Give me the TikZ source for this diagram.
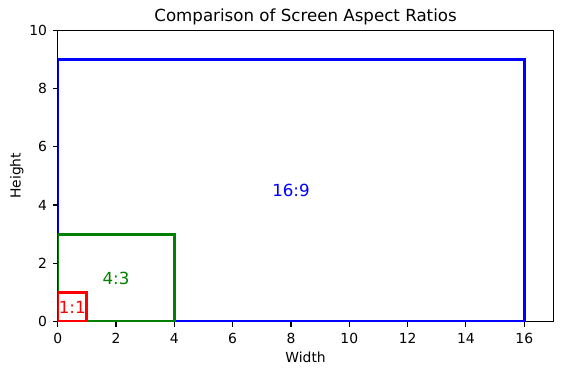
\documentclass[tikz,border=0pt]{standalone}
\usepackage{fontspec}
\setmainfont{DejaVu Sans}
\definecolor{mplgreen}{HTML}{008000}
\begin{document}
\begin{tikzpicture}[x=21pt,y=21pt]
\useasboundingbox (-1.979,-1.828) rectangle (17.329,11.032);
\fontsize{10}{12}\selectfont

% axes, ticks
\path[draw,line width=0.8pt] (0,0) rectangle (17,10);
\foreach \x in {0,2,...,16} {
  \path[draw,line width=0.8pt] (\x,0) -- ++(0,-3.5pt);
  \node[anchor=north,inner sep=0] (xt\x) at ([yshift=-8pt]\x,0) {\x};
}
\foreach \y in {0,2,...,10} {
  \path[draw,line width=0.8pt] (0,\y) -- ++(-3.5pt,0);
  \node[anchor=east,inner sep=0] (yt\y) at ([xshift=-7.5pt]0,\y) {\y};
}

\node (xlab) at (8.5,-1.21) {Width};
\node[rotate=90] (ylab) at (-1.40,5) {Height};
\node[anchor=base,font=\fontsize{12}{14}\selectfont] (title) at (8.5,10.285) {Comparison of Screen Aspect Ratios};

% the three screens
\begin{scope}
\clip (0,0) rectangle (17,10);
\path[draw,blue,line width=2pt] (0,0) rectangle (16,9);
\path[draw,mplgreen,line width=2pt] (0,0) rectangle (4,3);
\path[draw,red,line width=2pt] (0,0) rectangle (1,1);
\end{scope}

\node[blue,font=\fontsize{12}{14}\selectfont] (wide) at (8,4.5) {16:9};
\node[mplgreen,font=\fontsize{12}{14}\selectfont] (std) at (2,1.5) {4:3};
\node[red,font=\fontsize{12}{14}\selectfont] (square) at (0.5,0.5) {1:1};
\end{tikzpicture}
\end{document}
